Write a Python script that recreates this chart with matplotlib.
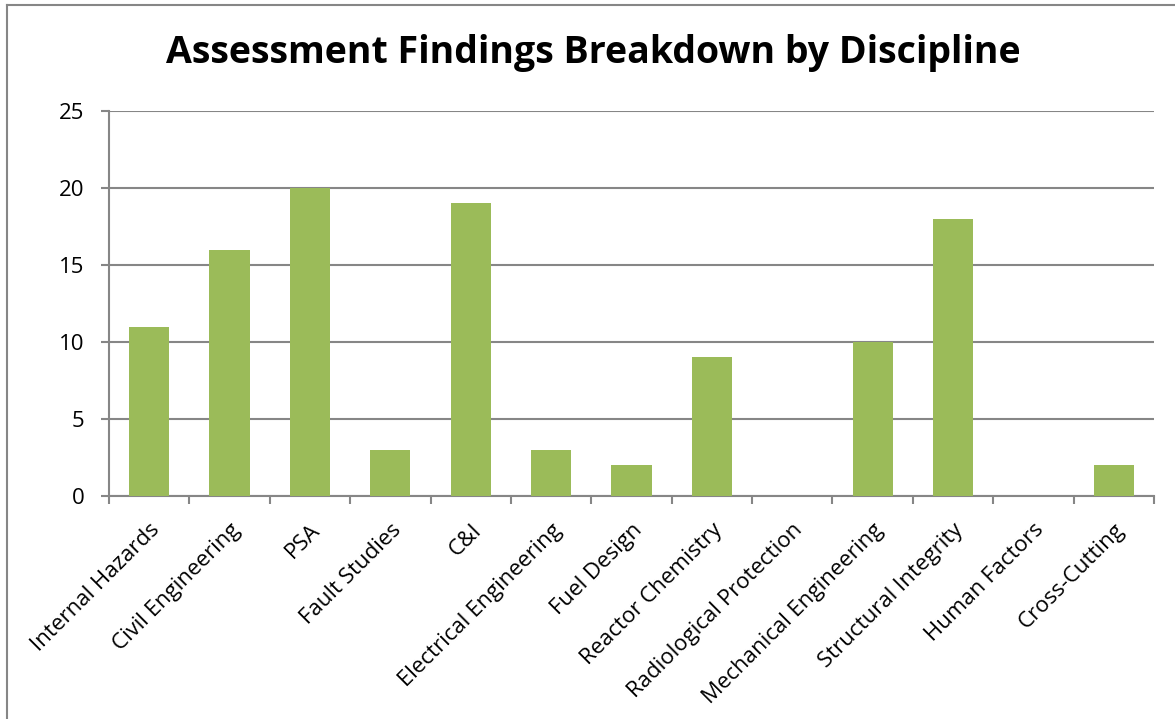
import matplotlib
matplotlib.use("Agg")
import matplotlib.pyplot as plt
from matplotlib.lines import Line2D

categories = ["Internal Hazards", "Civil Engineering", "PSA", "Fault Studies", "C&I",
              "Electrical Engineering", "Fuel Design", "Reactor Chemistry",
              "Radiological Protection", "Mechanical Engineering", "Structural Integrity",
              "Human Factors", "Cross-Cutting"]
values = [11, 16, 20, 3, 19, 3, 2, 9, 0, 10, 18, 0, 2]
yticks = [0, 5, 10, 15, 20, 25]
title = "Assessment Findings Breakdown by Discipline"

plt.rcParams['font.family'] = ['Open Sans', 'DejaVu Sans']

fig = plt.figure(figsize=(11.75, 7.19), dpi=100)
W, H = 1175, 719
ax = fig.add_axes([109 / W, 1 - 496 / H, (1154 - 109) / W, (496 - 111) / H])

x = list(range(len(categories)))
ax.bar(x, values, width=0.5, color="#9BBB59", zorder=3)
ax.set_xlim(-0.5, len(categories) - 0.5)
ax.set_ylim(0, 25)
ax.set_yticks(yticks)
ax.set_yticklabels([str(t) for t in yticks], fontsize=16)
ax.yaxis.grid(True, color="#868686", linewidth=1.5, zorder=0)
ax.set_axisbelow(True)

ax.set_xticks([i - 0.5 for i in range(len(categories) + 1)], minor=False)
ax.set_xticklabels([])
ax.set_xticks(x, minor=True)
ax.set_xticklabels(categories, minor=True, rotation=45, ha="right", va="top",
                   rotation_mode="anchor", fontsize=16)
ax.tick_params(axis="x", which="minor", length=0, pad=17)
ax.tick_params(axis="x", which="major", length=5.5, width=1.5, color="#868686", direction="out")
ax.tick_params(axis="y", length=5.5, width=1.5, color="#868686", direction="out", pad=12)

for s in ["top", "right"]:
    ax.spines[s].set_visible(False)
for s in ["left", "bottom"]:
    ax.spines[s].set_color("#868686")
    ax.spines[s].set_linewidth(1.5)

fig.text(593 / W, 1 - 53 / H, title, ha="center", va="center", fontsize=27, fontweight="bold")

# outer chart border (left and top visible)
fig.add_artist(Line2D([7 / W, 7 / W], [0, 1 - 5 / H], transform=fig.transFigure, color="#868686", linewidth=1.5))
fig.add_artist(Line2D([7 / W, 1], [1 - 5 / H, 1 - 5 / H], transform=fig.transFigure, color="#868686", linewidth=1.5))

fig.savefig("out.png", dpi=100)
